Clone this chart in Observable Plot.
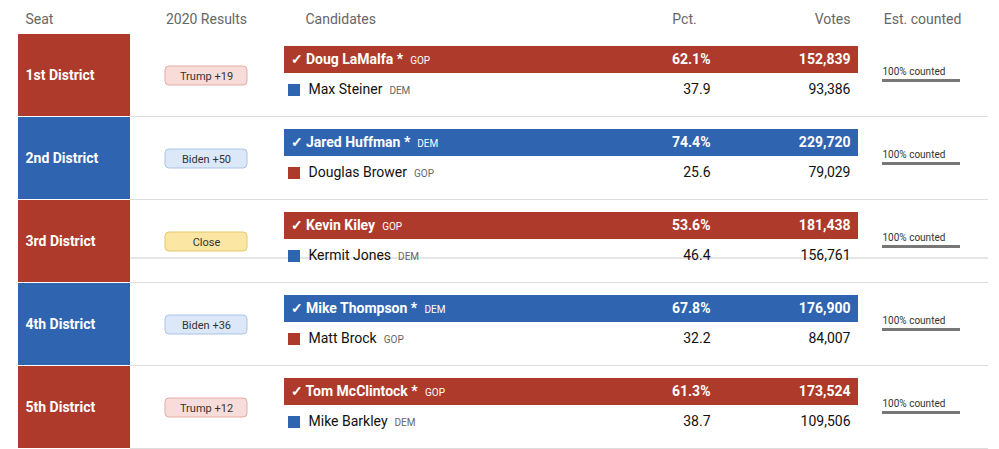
<!DOCTYPE html>
<html>
<head>
<meta charset="utf-8">
<script src="https://cdn.jsdelivr.net/npm/d3@7"></script>
<script src="https://cdn.jsdelivr.net/npm/@observablehq/plot@0.6"></script>
<style>
  body { margin: 0; background: #fff; }
  #chart svg { display: block; }
</style>
</head>
<body>
<div id="chart"></div>
<script>
// House results, districts 1-5
const seats = ["1st District", "2nd District", "3rd District", "4th District", "5th District"];
const lean = ["Trump +19", "Biden +50", "Close", "Biden +36", "Trump +12"];
const winners = ["Doug LaMalfa", "Jared Huffman", "Kevin Kiley", "Mike Thompson", "Tom McClintock"];
const winnerIncumbent = [true, true, false, true, true];
const winnerParty = ["GOP", "DEM", "GOP", "DEM", "GOP"];
const winnerPct = ["62.1%", "74.4%", "53.6%", "67.8%", "61.3%"];
const winnerVotes = ["152,839", "229,720", "181,438", "176,900", "173,524"];
const losers = ["Max Steiner", "Douglas Brower", "Kermit Jones", "Matt Brock", "Mike Barkley"];
const loserParty = ["DEM", "GOP", "DEM", "GOP", "DEM"];
const loserPct = ["37.9", "25.6", "46.4", "32.2", "38.7"];
const loserVotes = ["93,386", "79,029", "156,761", "84,007", "109,506"];
const counted = ["100% counted", "100% counted", "100% counted", "100% counted", "100% counted"];
const headers = ["Seat", "2020 Results", "Candidates", "Pct.", "Votes", "Est. counted"];

const FONT = "Roboto, 'Liberation Sans', sans-serif";
const partyColor = {GOP: "#ad3a2b", DEM: "#2f64b1"};
const pillFill = {Trump: "#f8dcd9", Biden: "#dce8f8", Close: "#fbe6a3"};
const pillStroke = {Trump: "#e6aaa3", Biden: "#aac4e8", Close: "#e3c86a"};

const rows = seats.map((seat, i) => ({
  seat,
  lean: lean[i],
  leanKey: lean[i].split(" ")[0],
  winner: "\u2713 " + winners[i] + (winnerIncumbent[i] ? " *" : ""),
  winnerParty: winnerParty[i],
  winnerPct: winnerPct[i],
  winnerVotes: winnerVotes[i],
  loser: losers[i],
  loserParty: loserParty[i],
  loserPct: loserPct[i],
  loserVotes: loserVotes[i],
  counted: counted[i]
}));

// measure names so the small party tag can follow them
const ctx = document.createElement("canvas").getContext("2d");
function textWidth(s, font) { ctx.font = font; return ctx.measureText(s).width; }
rows.forEach(d => {
  d.winnerTagX = 290 + textWidth(d.winner, `bold 14px ${FONT}`) + 7;
  d.loserTagX = 308 + textWidth(d.loser, `14px ${FONT}`) + 7;
});

const chart = Plot.plot({
  width: 999,
  height: 449,
  margin: 0,
  style: {fontFamily: FONT, background: "#fff"},
  x: {type: "linear", domain: [0, 999], range: [0, 999], axis: null},
  y: {type: "band", domain: seats, range: [34, 449], padding: 0, axis: null},
  marks: [
    // header
    Plot.text(headers, {
      x: [25, 206, 305, 684, 850, 922],
      text: d => d,
      frameAnchor: "top", dy: 14,
      textAnchor: "start",
      fontSize: 14, fill: "#666",
      render: (index, scales, values, dims, context, next) => {
        const g = next(index, scales, values, dims, context);
        const anchors = ["start", "middle", "start", "middle", "end", "middle"];
        g.querySelectorAll("text").forEach((t, k) => t.setAttribute("text-anchor", anchors[k]));
        return g;
      }
    }),
    Plot.ruleY([0], {x1: 18, x2: 988, y: null, frameAnchor: "top", dy: 33, stroke: "#ccc"}),
    // row separators
    Plot.rect(rows, {x1: 130, x2: 988, y: "seat", insetTop: 82, fill: "#ddd"}),
    // seat cells
    Plot.rect(rows, {x1: 18, x2: 130, y: "seat", insetBottom: 1, fill: d => partyColor[d.winnerParty]}),
    Plot.text(rows, {x: 25, y: "seat", text: "seat", textAnchor: "start", fill: "white", fontWeight: "bold", fontSize: 14}),
    // 2020 pill
    Plot.rect(rows, {x1: 165, x2: 247, y: "seat", insetTop: 32, insetBottom: 32, rx: 4,
      fill: d => pillFill[d.leanKey], stroke: d => pillStroke[d.leanKey]}),
    Plot.text(rows, {x: 206, y: "seat", text: "lean", fontSize: 11, fill: "#333"}),
    // winner bar
    Plot.rect(rows, {x1: 284, x2: 858, y: "seat", insetTop: 12, insetBottom: 44, fill: d => partyColor[d.winnerParty]}),
    Plot.text(rows, {x: 290, y: "seat", dy: -16, text: "winner", textAnchor: "start", fill: "white", fontWeight: "bold", fontSize: 14}),
    Plot.text(rows, {x: "winnerTagX", y: "seat", dy: -15, text: "winnerParty", textAnchor: "start", fill: "white", fontSize: 10}),
    Plot.text(rows, {x: 710, y: "seat", dy: -16, text: "winnerPct", textAnchor: "end", fill: "white", fontWeight: "bold", fontSize: 14}),
    Plot.text(rows, {x: 850, y: "seat", dy: -16, text: "winnerVotes", textAnchor: "end", fill: "white", fontWeight: "bold", fontSize: 14}),
    // loser row
    Plot.rect(rows, {x1: 288, x2: 300, y: "seat", insetTop: 50, insetBottom: 21, fill: d => partyColor[d.loserParty]}),
    Plot.text(rows, {x: 308, y: "seat", dy: 14, text: "loser", textAnchor: "start", fill: "#111", fontSize: 14}),
    Plot.text(rows, {x: "loserTagX", y: "seat", dy: 15, text: "loserParty", textAnchor: "start", fill: "#666", fontSize: 10}),
    Plot.text(rows, {x: 710, y: "seat", dy: 14, text: "loserPct", textAnchor: "end", fill: "#111", fontSize: 14}),
    Plot.text(rows, {x: 850, y: "seat", dy: 14, text: "loserVotes", textAnchor: "end", fill: "#111", fontSize: 14}),
    // counted
    Plot.text(rows, {x: 882, y: "seat", dy: -4, text: "counted", textAnchor: "start", fill: "#333", fontSize: 10}),
    Plot.rect(rows, {x1: 882, x2: 960, y: "seat", insetTop: 45, insetBottom: 35, fill: "#777"})
  ]
});

document.getElementById("chart").appendChild(chart);
</script>
</body>
</html>
